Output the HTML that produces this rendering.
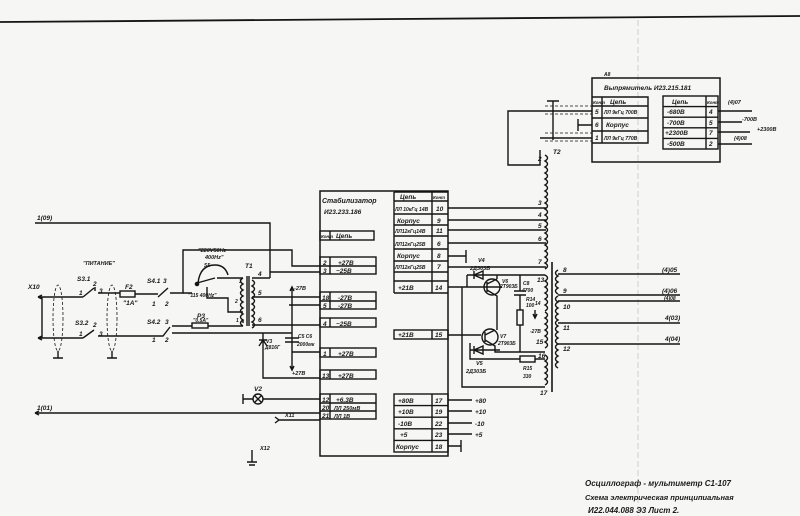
<!DOCTYPE html>
<html><head><meta charset="utf-8"><style>
html,body{margin:0;padding:0;background:#f6f6f4;}
svg{display:block}
text{font-family:"Liberation Sans","DejaVu Sans",sans-serif;font-style:italic;font-weight:bold;fill:#1a1a1a;}
</style></head><body>
<svg width="800" height="516" viewBox="0 0 800 516" xmlns="http://www.w3.org/2000/svg">
<rect width="800" height="516" fill="#f6f6f4"/>
<g stroke="#151515" stroke-width="1.4" fill="none">
<path d="M0 22 L800 16" stroke-width="1.8"/>
<path d="M638 20 V516" stroke="#c4c4c4" stroke-width="0.8" stroke-dasharray="6 3"/>

<rect x="320" y="191" width="128" height="265" stroke-width="1.5"/>
<path d="M394 192 V293 M432 192 V293 M394 192 H448 M394 201 H448 M394 214 H448 M394 225 H448 M394 236 H448 M394 249 H448 M394 261 H448 M394 272 H448 M394 281 H448 M394 293 H448"/>
<rect x="394" y="330" width="54" height="9"/><path d="M432 330 V339"/>
<rect x="394" y="394" width="54" height="58"/>
<path d="M432 394 V452 M394 405.6 H448 M394 417.2 H448 M394 428.8 H448 M394 440.4 H448"/>
<rect x="320" y="231" width="54" height="9"/><path d="M330 231 V240"/>
<rect x="320" y="257" width="56" height="17"/><path d="M330 257 V274 M320 266 H376"/>
<rect x="320" y="292" width="56" height="17"/><path d="M330 292 V309 M320 301 H376"/>
<rect x="320" y="318" width="56" height="9"/><path d="M330 318 V327"/>
<rect x="320" y="348" width="56" height="9"/><path d="M330 348 V357"/>
<rect x="320" y="370" width="56" height="9"/><path d="M330 370 V379"/>
<rect x="320" y="394" width="56" height="25"/><path d="M330 394 V419 M320 403 H376 M320 411 H376"/>

<rect x="592" y="78" width="128" height="84" stroke-width="1.5"/>
<path d="M592 97 H648 V143 H592 M602 97 V143 M592 106 H648 M592 118 H648 M592 131 H648"/>
<rect x="663" y="96" width="55" height="53"/>
<path d="M706 96 V149 M663 106.6 H718 M663 117.2 H718 M663 127.8 H718 M663 138.4 H718"/>
<path d="M718 111 H752 M718 122 H742 M718 132 H750 M718 144 H752"/>
<path d="M592 111 H508 V165 H540 V150 M592 138 H540 M578 125 H592 M578 119 V131"/>
<path d="M553 101 V140 M547 101 H559" />
<path d="M545 106 H592 M545 114 H592 M545 133 H592 M545 141 H592" stroke-dasharray="3 2" stroke-width="0.8"/>

<path d="M545 155 q5 3 0 6 q5 3 0 6 q5 3 0 6 q5 3 0 6 q5 3 0 6 q5 3 0 6 q5 3 0 6 q5 3 0 6 q5 3 0 6 q5 3 0 6 q5 3 0 6 q5 3 0 6 q5 3 0 6 q5 3 0 6 q5 3 0 6 q5 3 0 6 q5 3 0 6 q5 3 0 6 q5 3 0 6"/>
<path d="M448 208 H546 M448 220 H546 M448 230 H546 M448 243 H546 M448 267 H546"/>
<path d="M448 256 H466 M466 250 V263"/>
<path d="M552 262 V392" stroke-width="1.6"/>
<path d="M545 275 q5 3 0 6 q5 3 0 6 q5 3 0 6 q5 3 0 6 q5 3 0 6 q5 3 0 6 M545 312 q5 3 0 6 q5 3 0 6 q5 3 0 6 q5 3 0 6 q5 3 0 6 q5 3 0 6 M545 355 q5 3 0 6 q5 3 0 6 q5 3 0 6 q5 3 0 6 q5 3 0 6"/>
<path d="M558 270 q-5 3 0 6 q-5 3 0 6 q-5 3 0 6 q-5 3 0 6 M558 296 q-5 3 0 6 q-5 3 0 6 q-5 3 0 6 q-5 3 0 6 q-5 3 0 6 q-5 3 0 6 q-5 3 0 6 q-5 3 0 6 q-5 3 0 6 q-5 3 0 6 q-5 3 0 6 q-5 3 0 6"/>
<path d="M558 274 H680 M558 295 H680 M558 301 H680 M558 323 H680 M558 344 H680"/>
<path d="M448 287 H502 M448 335 H481"/>
<path d="M467 275 H545 M467 275 V287"/>
<path d="M474 271 V279 M483 271 L474 275 L483 279 Z"/>
<circle cx="492" cy="287" r="8"/><circle cx="490" cy="337" r="8"/>
<path d="M487 282 V292 M487 284 L497 279 M487 290 L497 296 V330 M485 332 V342 M485 335 L495 330 M485 340 L495 346 V352 H545"/>
<path d="M497 279 V275 M462 287 V387 H545"/>
<path d="M470 350 H500 M474 346 V354 M483 346 L474 350 L483 354 Z M470 343 V359 H520 M535 359 H545"/>
<rect x="520" y="356" width="15" height="6"/>
<path d="M520 275 V291 M514 291 H526 M514 295 H526 M520 295 V310 M520 325 V352"/>
<rect x="517" y="310" width="6" height="15"/>
<path d="M535 310 V318 M533 314 L535 318 L537 314"/>
<path d="M448 400 H472 M448 411 H472 M448 423 H472 M448 434 H472 M448 446 H461 M461 440 V452"/>

<path d="M35 223 H270 V278 M252 278 H270 M270 272 H320"/>
<path d="M38 297 H83 M38 338 H83 M42 297 V338 M38 297 l4 -2 M38 297 l4 2 M38 338 l4 -2 M38 338 l4 2"/>
<ellipse cx="58" cy="318" rx="5" ry="33" stroke-dasharray="3 2" stroke-width="0.8"/>
<ellipse cx="112" cy="318" rx="5" ry="33" stroke-dasharray="3 2" stroke-width="0.8"/>
<path d="M58 351 V358 M53 358 H63 M112 351 V358 M107 358 H117"/>
<path d="M83 297 L94 288 M95 287 V291 M98 293 H120 M135 294 H158 M158 297 L168 288 M170 293 H183 V250 H292 V266 H320"/>
<rect x="120" y="291" width="15" height="6"/>
<path d="M83 338 L94 330 M98 336 H163 L170 327 M172 326 H192 M208 326 H243"/>
<rect x="192" y="323" width="16" height="5"/>
<path d="M183 293 H192 M197 283 L215 278 M198 283 Q200 265 215 265 Q225 265 228 275 M217 278 H243 M207 287 V298 H228 V312 H243 M243 323 V320"/>
<circle cx="197" cy="284" r="1.6" fill="#151515"/>
<path d="M243 278 q-5 3 0 6 q-5 3 0 6 q-5 3 0 6 q-5 3 0 6 q-5 3 0 6 q-5 3 0 6 q-5 3 0 6 q-5 3 0 6"/>
<path d="M247 276 V326 M249 276 V326"/>
<path d="M252 280 q5 3 0 6 q5 3 0 6 q5 3 0 6 q5 3 0 6 q5 3 0 6 q5 3 0 6 q5 3 0 6 q5 3 0 6"/>
<path d="M252 297 H320 M289 305 H320 M252 325 H320"/>
<path d="M292 287 V370 M290 291 L292 287 L294 291 M290 366 L292 370 L294 366"/>
<path d="M172 333 H292 M263 333 V378 H320 M259 340 H267 M259 346 L263 340 L267 346 M285 338 H299 M285 342 H299 M292 352 H320"/>
<circle cx="258" cy="399" r="5"/><path d="M255 396 L261 402 M261 396 L255 402 M253 399 H243 M243 394 V404 M263 399 H320"/>
<path d="M35 413 H320 M35 413 l4 -2 M35 413 l4 2"/>
<path d="M275 417 L279 420 L275 423 M279 420 H320"/>
<path d="M252 450 V462 M247 462 H257 M249 465 H255"/>
</g>
<g font-size="6.5">
<text x="322" y="203" font-size="7">Стабилизатор</text>
<text x="324" y="214">И23.233.186</text>
<text x="321" y="238" font-size="4.5">Конт</text><text x="336" y="238">Цепь</text>
<text x="323" y="265">2</text><text x="338" y="265">+27В</text>
<text x="323" y="273">3</text><text x="336" y="273">~25В</text>
<text x="322" y="300">18</text><text x="338" y="300">-27В</text>
<text x="323" y="308">5</text><text x="338" y="308">-27В</text>
<text x="323" y="326">4</text><text x="336" y="326">~25В</text>
<text x="323" y="356">1</text><text x="338" y="356">+27В</text>
<text x="322" y="378">13</text><text x="338" y="378">+27В</text>
<text x="322" y="402">12</text><text x="336" y="402">+6.3В</text>
<text x="322" y="410">20</text><text x="334" y="410" font-size="5.5">ЛЛ 250мВ</text>
<text x="322" y="418">21</text><text x="334" y="418" font-size="5.5">ЛЛ  1В</text>
<text x="400" y="199">Цепь</text><text x="433" y="199" font-size="4.5">Конт</text>
<text x="395" y="211" font-size="5">ЛЛ 10кГц 14В</text><text x="436" y="211">10</text>
<text x="397" y="223">Корпус</text><text x="437" y="223">9</text>
<text x="395" y="233" font-size="5">ЛЛ12кГц14В</text><text x="436" y="233">11</text>
<text x="395" y="246" font-size="5">ЛЛ12кГц25В</text><text x="437" y="246">6</text>
<text x="397" y="258">Корпус</text><text x="437" y="258">8</text>
<text x="395" y="269" font-size="5">ЛЛ12кГц25В</text><text x="437" y="269">7</text>
<text x="398" y="290">+21В</text><text x="435" y="290">14</text>
<text x="398" y="337">+21В</text><text x="435" y="337">15</text>
<text x="398" y="403">+80В</text><text x="435" y="403">17</text>
<text x="398" y="414">+10В</text><text x="435" y="414">19</text>
<text x="398" y="426">-10В</text><text x="435" y="426">22</text>
<text x="400" y="437">+5</text><text x="435" y="437">23</text>
<text x="396" y="449">Корпус</text><text x="435" y="449">18</text>
<text x="475" y="403">+80</text><text x="475" y="414">+10</text><text x="475" y="426">-10</text><text x="475" y="437">+5</text>
<text x="604" y="76" font-size="5">A8</text>
<text x="604" y="90">Выпрямитель  И23.215.181</text>
<text x="593" y="104" font-size="4.5">Конт</text><text x="610" y="104">Цепь</text>
<text x="595" y="114">5</text><text x="604" y="114" font-size="5">ЛЛ 9кГц 700В</text>
<text x="595" y="127">6</text><text x="606" y="127">Корпус</text>
<text x="595" y="140">1</text><text x="604" y="140" font-size="5">ЛЛ 9кГц 770В</text>
<text x="672" y="104">Цепь</text><text x="707" y="104" font-size="4.5">Конт</text>
<text x="667" y="114">-680В</text><text x="709" y="114">4</text>
<text x="667" y="125">-700В</text><text x="709" y="125">5</text>
<text x="665" y="135">+2300В</text><text x="709" y="135">7</text>
<text x="667" y="146">-500В</text><text x="709" y="146">2</text>
<text x="728" y="104" font-size="5.5">(4)07</text><text x="742" y="121" font-size="5.5">-700В</text>
<text x="757" y="131" font-size="5.5">+2300В</text><text x="734" y="140" font-size="5.5">(4)08</text>
<text x="553" y="154">T2</text><text x="538" y="161">2</text>
<text x="538" y="205">3</text><text x="538" y="217">4</text><text x="538" y="228">5</text><text x="538" y="241">6</text><text x="538" y="264">7</text>
<text x="563" y="272">8</text><text x="563" y="293">9</text><text x="563" y="309">10</text><text x="563" y="330">11</text><text x="563" y="351">12</text>
<text x="537" y="282">13</text><text x="535" y="305" font-size="5">14</text><text x="536" y="344">15</text><text x="538" y="358">16</text><text x="540" y="395">17</text>
<text x="662" y="272">(4)05</text><text x="662" y="293">(4)06</text><text x="664" y="300" font-size="5">(4)08</text>
<text x="665" y="320">4(03)</text><text x="665" y="341">4(04)</text>
<text x="478" y="262" font-size="5.5">V4</text><text x="470" y="270" font-size="5.5">2Д303Б</text>
<text x="502" y="283" font-size="5">V6</text><text x="500" y="288" font-size="5">2Т903Б</text>
<text x="523" y="285" font-size="5">C8</text><text x="522" y="292" font-size="5">4700</text>
<text x="526" y="301" font-size="5">R14</text><text x="526" y="307" font-size="5">100</text>
<text x="530" y="333" font-size="5">-27В</text>
<text x="500" y="338" font-size="5">V7</text><text x="498" y="345" font-size="5">2Т903Б</text>
<text x="476" y="365" font-size="5.5">V5</text><text x="466" y="373" font-size="5.5">2Д303Б</text>
<text x="523" y="370" font-size="5">R15</text><text x="523" y="378" font-size="5">330</text>
<text x="37" y="220">1(09)</text>
<text x="83" y="265" font-size="5.5">"ПИТАНИЕ"</text>
<text x="28" y="289">X10</text>
<text x="77" y="281">S3.1</text><text x="93" y="286">2</text><text x="79" y="295">1</text><text x="99" y="293">3</text>
<text x="75" y="325">S3.2</text><text x="93" y="327">2</text><text x="79" y="336">1</text><text x="99" y="336">3</text>
<text x="125" y="289">F2</text><text x="123" y="305">"1А"</text>
<text x="147" y="283">S4.1</text><text x="163" y="283">3</text><text x="152" y="306">1</text><text x="165" y="306">2</text>
<text x="147" y="324">S4.2</text><text x="165" y="324">3</text><text x="152" y="342">1</text><text x="165" y="342">2</text>
<text x="197" y="318">P3</text><text x="193" y="322" font-size="5">"0.5А"</text>
<text x="198" y="252" font-size="5.5">"220V50Hz</text><text x="205" y="259" font-size="5.5">400Hz"</text>
<text x="204" y="267" font-size="5">S5</text><text x="245" y="268">T1</text>
<text x="258" y="276">4</text><text x="258" y="295">5</text><text x="258" y="322">6</text>
<text x="239" y="283" font-size="5">3</text><text x="235" y="303" font-size="5">2</text><text x="236" y="322" font-size="5">1</text>
<text x="188" y="297" font-size="5">"115 400Hz"</text>
<text x="294" y="290" font-size="5.5">-27В</text><text x="292" y="375" font-size="5.5">+27В</text>
<text x="266" y="343" font-size="5">V3</text><text x="265" y="349" font-size="5">Д816Г</text>
<text x="298" y="338" font-size="5">C5 C6</text><text x="297" y="346" font-size="5">2000мк</text>
<text x="254" y="391">V2</text>
<text x="37" y="410">1(01)</text>
<text x="285" y="417" font-size="5.5">X11</text>
<text x="260" y="450" font-size="5.5">X12</text>
<text x="585" y="486" font-size="8">Осциллограф - мультиметр С1-107</text>
<text x="585" y="500" font-size="7.5">Схема  электрическая  принципиальная</text>
<text x="588" y="513" font-size="8">И22.044.088  Э3        Лист 2.</text>
</g>
</svg>
</body></html>
